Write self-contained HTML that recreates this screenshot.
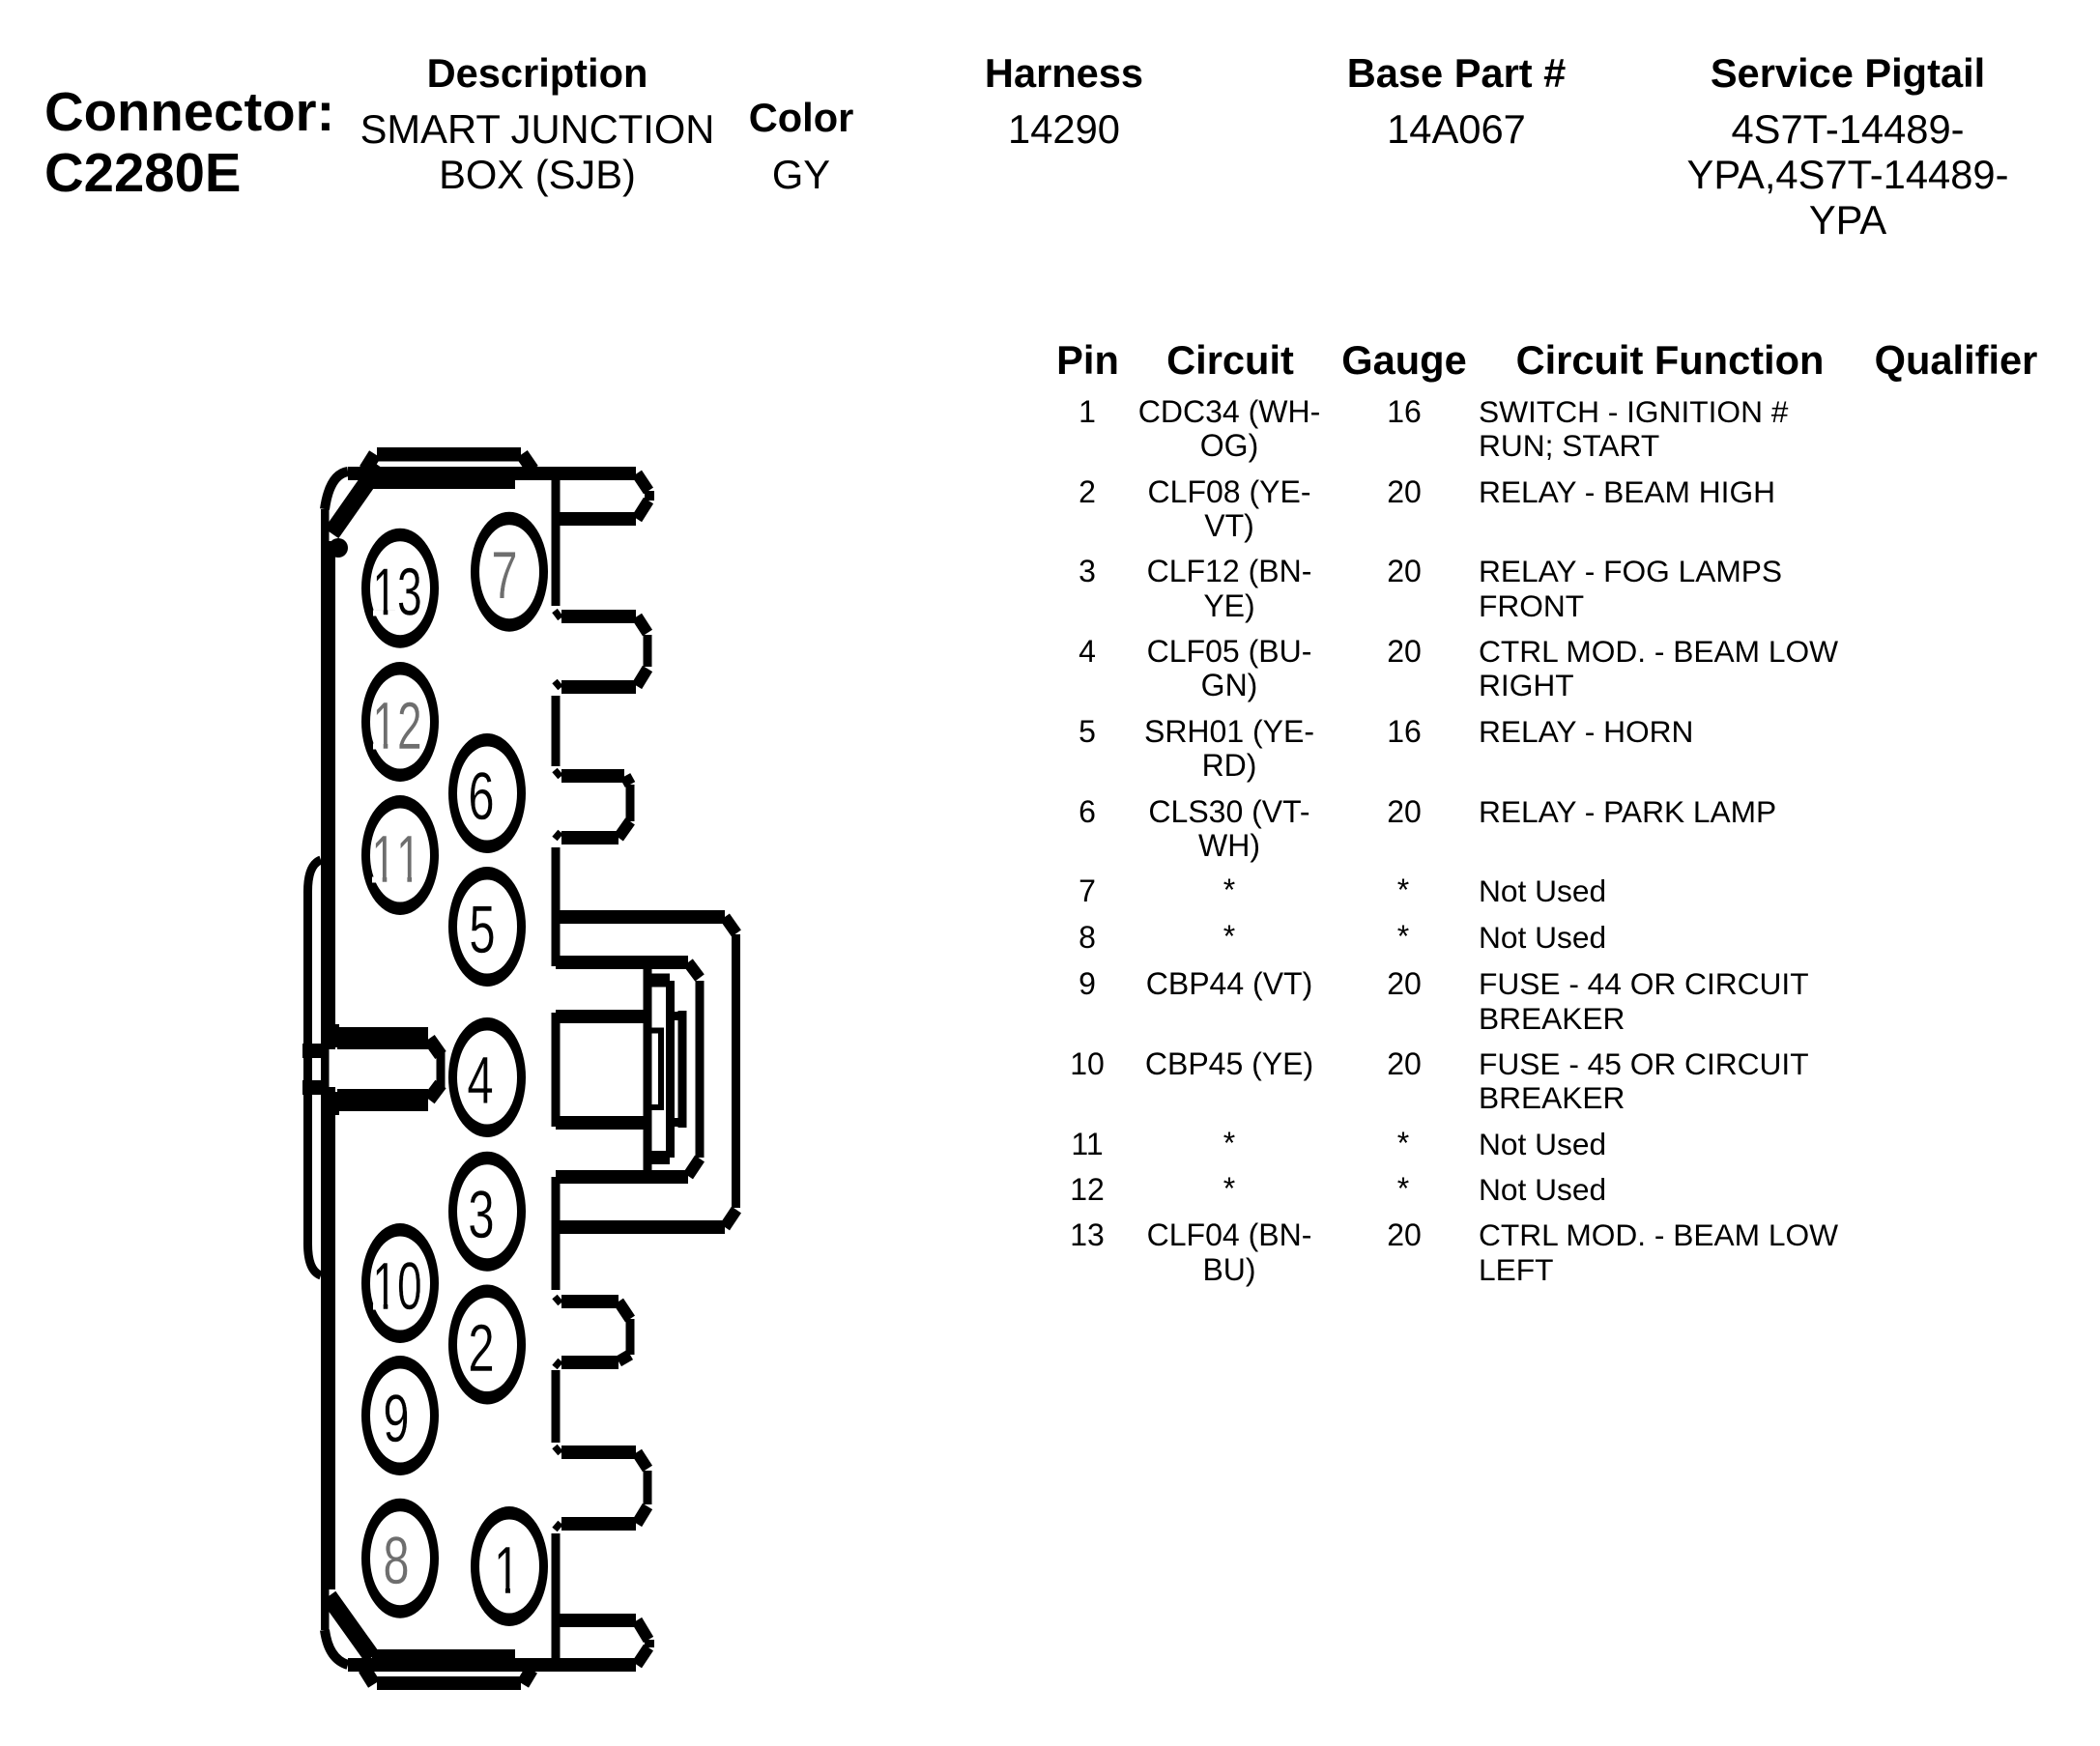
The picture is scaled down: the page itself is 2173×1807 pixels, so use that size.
<!DOCTYPE html>
<html><head><meta charset="utf-8"><style>
html,body{margin:0;padding:0;background:#fff}
svg{display:block}
text{font-family:"Liberation Sans",Arial,sans-serif;fill:#000}
.h{font-weight:bold;font-size:41.6px;text-anchor:middle}
.b{font-weight:bold;font-size:56.3px}
.v{font-size:41.7px;text-anchor:middle}
.t{font-size:32px}
.f{font-size:31.7px}
.m{text-anchor:middle}
.l{fill:none;stroke:#000;stroke-width:14}
.w{fill:none;stroke:#000;stroke-width:9}
.n{font-size:70px;text-anchor:middle;stroke:#fff;stroke-width:.4;font-kerning:none}
</style></head><body>
<svg xmlns="http://www.w3.org/2000/svg" width="2173" height="1807" viewBox="0 0 2173 1807">
<rect width="2173" height="1807" fill="#fff"/>
<text class="b" x="46" y="135">Connector:</text>
<text class="b" x="46" y="198">C2280E</text>
<text class="h" x="556" y="90">Description</text>
<text class="v" x="556" y="148">SMART JUNCTION</text>
<text class="v" x="556" y="195">BOX (SJB)</text>
<text class="h" x="829" y="136">Color</text>
<text class="v" x="829" y="195">GY</text>
<text class="h" x="1101" y="90">Harness</text>
<text class="v" x="1101" y="148">14290</text>
<text class="h" x="1507" y="90">Base Part #</text>
<text class="v" x="1507" y="148">14A067</text>
<text class="h" x="1912" y="90">Service Pigtail</text>
<text class="v" x="1912" y="148">4S7T-14489-</text>
<text class="v" x="1912" y="195">YPA,4S7T-14489-</text>
<text class="v" x="1912" y="242">YPA</text>

<text class="h" x="1125.500" y="387">Pin</text>
<text class="h" x="1273" y="387">Circuit</text>
<text class="h" x="1453" y="387">Gauge</text>
<text class="h" x="1728" y="387">Circuit Function</text>
<text class="h" x="2024" y="387">Qualifier</text>

<text class="t m" x="1125" y="437">1</text><text class="t m" x="1272" y="437">CDC34 (WH-</text><text class="t m" x="1272" y="472">OG)</text><text class="t m" x="1453" y="437">16</text><text class="f" x="1530" y="437">SWITCH - IGNITION #</text><text class="f" x="1530" y="472">RUN; START</text>
<text class="t m" x="1125" y="520">2</text><text class="t m" x="1272" y="520">CLF08 (YE-</text><text class="t m" x="1272" y="555">VT)</text><text class="t m" x="1453" y="520">20</text><text class="f" x="1530" y="520">RELAY - BEAM HIGH</text>
<text class="t m" x="1125" y="602">3</text><text class="t m" x="1272" y="602">CLF12 (BN-</text><text class="t m" x="1272" y="638">YE)</text><text class="t m" x="1453" y="602">20</text><text class="f" x="1530" y="602">RELAY - FOG LAMPS</text><text class="f" x="1530" y="638">FRONT</text>
<text class="t m" x="1125" y="685">4</text><text class="t m" x="1272" y="685">CLF05 (BU-</text><text class="t m" x="1272" y="720">GN)</text><text class="t m" x="1453" y="685">20</text><text class="f" x="1530" y="685">CTRL MOD. - BEAM LOW</text><text class="f" x="1530" y="720">RIGHT</text>
<text class="t m" x="1125" y="768">5</text><text class="t m" x="1272" y="768">SRH01 (YE-</text><text class="t m" x="1272" y="803">RD)</text><text class="t m" x="1453" y="768">16</text><text class="f" x="1530" y="768">RELAY - HORN</text>
<text class="t m" x="1125" y="851">6</text><text class="t m" x="1272" y="851">CLS30 (VT-</text><text class="t m" x="1272" y="886">WH)</text><text class="t m" x="1453" y="851">20</text><text class="f" x="1530" y="851">RELAY - PARK LAMP</text>
<text class="t m" x="1125" y="933">7</text><text class="t m" x="1272" y="932">*</text><text class="t m" x="1452" y="932">*</text><text class="f" x="1530" y="933">Not Used</text>
<text class="t m" x="1125" y="981">8</text><text class="t m" x="1272" y="980">*</text><text class="t m" x="1452" y="980">*</text><text class="f" x="1530" y="981">Not Used</text>
<text class="t m" x="1125" y="1029">9</text><text class="t m" x="1272" y="1029">CBP44 (VT)</text><text class="t m" x="1453" y="1029">20</text><text class="f" x="1530" y="1029">FUSE - 44 OR CIRCUIT</text><text class="f" x="1530" y="1065">BREAKER</text>
<text class="t m" x="1125" y="1112">10</text><text class="t m" x="1272" y="1112">CBP45 (YE)</text><text class="t m" x="1453" y="1112">20</text><text class="f" x="1530" y="1112">FUSE - 45 OR CIRCUIT</text><text class="f" x="1530" y="1147">BREAKER</text>
<text class="t m" x="1125" y="1195">11</text><text class="t m" x="1272" y="1194">*</text><text class="t m" x="1452" y="1194">*</text><text class="f" x="1530" y="1195">Not Used</text>
<text class="t m" x="1125" y="1242">12</text><text class="t m" x="1272" y="1241">*</text><text class="t m" x="1452" y="1241">*</text><text class="f" x="1530" y="1242">Not Used</text>
<text class="t m" x="1125" y="1289">13</text><text class="t m" x="1272" y="1289">CLF04 (BN-</text><text class="t m" x="1272" y="1325">BU)</text><text class="t m" x="1453" y="1289">20</text><text class="f" x="1530" y="1289">CTRL MOD. - BEAM LOW</text><text class="f" x="1530" y="1325">LEFT</text>

<!-- connector body: left wall, top and bottom -->
<g fill="#000">
<rect x="390" y="463" width="149" height="14.500"/>
<rect x="360" y="483" width="298" height="14"/>
<rect x="385" y="497" width="148" height="9"/>
<rect x="332" y="527" width="8.500" height="1160"/>
<rect x="332" y="560" width="15" height="520"/>
<rect x="332" y="1125" width="15" height="520"/>
<rect x="360" y="1716" width="298" height="14"/>
<rect x="385" y="1707" width="148" height="9"/>
<rect x="390" y="1735" width="149" height="14"/>
<circle cx="350" cy="567" r="10"/>
<rect x="313" y="1080" width="27" height="15"/>
<rect x="313" y="1118" width="27" height="15"/>
<rect x="349" y="1063" width="94" height="23"/>
<rect x="349" y="1127" width="94" height="23"/>
<rect x="345" y="1060" width="6" height="24"/>
<rect x="345" y="1130" width="6" height="24"/>
<rect x="340" y="1076" width="7" height="10"/>
<rect x="340" y="1125" width="7" height="10"/>
</g>
<path class="l" d="M388 470L378 486M540 470L551 486"/>
<path class="l" d="M387 1743L377 1727M541 1743L550 1728"/>
<path class="l" style="stroke-width:18" d="M392 482L343 552"/>
<path class="l" style="stroke-width:18" d="M340 1652L385 1715"/>
<path class="l" d="M444 1075L456 1092M444 1138L456 1122"/>
<!-- teeth chevrons -->
<path class="l" style="stroke-width:12" d="M659 490L671 508M671 518L659 537M659 638L670 655M670 692L659 710M647 803L652 812M652 850L640 867M750 949L762 966M762 1252L750 1270M712 996L724 1012M724 1199L712 1217M640 1347L652 1365M652 1402L640 1409M659 1503L670 1520M670 1559L659 1577M659 1677L671 1697M671 1705L659 1723"/>
<!-- tooth lines -->
<path class="l" d="M578 537H658M581 638H658M581 711H658M581 803H646M581 867H640M578 949H750M575 996H712M575 1218H712M578 1270H750M581 1347H640M581 1410H640M581 1503H658M581 1577H658M578 1677H658"/>
<path class="l" d="M575 1052H667M575 1162H667"/>
<path class="l" d="M674 1014.500H693M674 1198H693"/>
<path class="w" style="stroke-width:10" d="M360 488Q341 491 336 527"/>
<path class="w" style="stroke-width:10" d="M336 1687Q340 1717 360 1723"/>
<path class="w" d="M332 890Q318 895 318.500 925V1285Q318 1315 332 1320"/>
<!-- vertical walls -->
<path class="w" d="M575 497V627M575 720V793M575 877V1000M575 1218V1335M575 1418V1493M575 1587V1716"/>
<path class="w" d="M575 1048V1166"/>
<path class="w" d="M670 657V690M670 1522V1557M652 812V850M652 1365V1402M761.500 967V1250M724 1015V1198"/>
<path class="w" d="M670 1002V1211M693.500 1015V1198M706 1046V1167M698 1051.500H706M698 1161.500H706"/>
<path class="w" style="stroke-width:6" d="M674 1066.500H684V1146H674"/>
<path class="w" style="stroke-width:10" d="M672 508V518M672 1697V1705"/>
<path class="w" d="M456 1087V1127"/>
<path class="w" style="stroke-width:7" d="M574 632L580 640M574 705L580 712M574 797L580 804M574 868L580 861M574 1342L580 1349M574 1415L580 1408M574 1497L580 1504M574 1583L580 1576"/>
<!-- pins -->
<g fill="#000"><ellipse cx="414" cy="608.700" rx="40" ry="62"/><ellipse cx="527" cy="591.700" rx="40" ry="62"/><ellipse cx="414" cy="747" rx="40" ry="62"/><ellipse cx="504" cy="821" rx="40" ry="62"/><ellipse cx="414" cy="885" rx="40" ry="62"/><ellipse cx="504" cy="959" rx="40" ry="62"/><ellipse cx="504" cy="1115" rx="40" ry="62"/><ellipse cx="504" cy="1253.700" rx="40" ry="62"/><ellipse cx="414" cy="1328" rx="40" ry="62"/><ellipse cx="504" cy="1391.500" rx="40" ry="62"/><ellipse cx="414" cy="1465" rx="40" ry="62"/><ellipse cx="414" cy="1612.700" rx="40" ry="62"/><ellipse cx="527" cy="1621" rx="40" ry="62"/></g>
<g fill="#fff"><ellipse cx="414" cy="608.700" rx="31" ry="48.500"/><ellipse cx="527" cy="591.700" rx="31" ry="48.500"/><ellipse cx="414" cy="747" rx="31" ry="48.500"/><ellipse cx="504" cy="821" rx="31" ry="48.500"/><ellipse cx="414" cy="885" rx="31" ry="48.500"/><ellipse cx="504" cy="959" rx="31" ry="48.500"/><ellipse cx="504" cy="1115" rx="31" ry="48.500"/><ellipse cx="504" cy="1253.700" rx="31" ry="48.500"/><ellipse cx="414" cy="1328" rx="31" ry="48.500"/><ellipse cx="504" cy="1391.500" rx="31" ry="48.500"/><ellipse cx="414" cy="1465" rx="31" ry="48.500"/><ellipse cx="414" cy="1612.700" rx="31" ry="48.500"/><ellipse cx="527" cy="1621" rx="31" ry="48.500"/></g>
<text class="n" transform="translate(411,636.700) scale(.66,1)">13</text>
<text class="n" style="fill:#6e6e6e" transform="translate(522,619) scale(.7,1)">7</text>
<text class="n" style="fill:#6e6e6e" transform="translate(411,775) scale(.66,1)">12</text>
<text class="n" transform="translate(498,848) scale(.7,1)">6</text>
<text class="n" style="fill:#6e6e6e" transform="translate(410,913) scale(.66,1)">11</text>
<text class="n" transform="translate(499,986) scale(.7,1)">5</text>
<text class="n" transform="translate(497,1142) scale(.7,1)">4</text>
<text class="n" transform="translate(498,1281) scale(.7,1)">3</text>
<text class="n" transform="translate(411,1355) scale(.66,1)">10</text>
<text class="n" transform="translate(498,1419) scale(.7,1)">2</text>
<text class="n" transform="translate(410,1492) scale(.7,1)">9</text>
<text class="n" style="fill:#6e6e6e" transform="translate(410,1639) scale(.7,1)">8</text>
<text class="n" transform="translate(524.500,1649) scale(.7,1)">1</text>
<!-- trim the foot of the numeral one to match the reference typeface -->
<g fill="#fff">
<rect x="386" y="631.500" width="10.700" height="6"/><rect x="401.300" y="631.500" width="9.700" height="6"/>
<rect x="386" y="769.500" width="10.700" height="6"/><rect x="401.300" y="769.500" width="9.700" height="6"/>
<rect x="385" y="907.500" width="10.700" height="6"/><rect x="400.300" y="907.500" width="21.100" height="6"/><rect x="426" y="907.500" width="10" height="6"/>
<rect x="386" y="1349.500" width="10.700" height="6"/><rect x="401.300" y="1349.500" width="9.700" height="6"/>
<rect x="510" y="1643.500" width="13" height="6"/><rect x="528" y="1643.500" width="10" height="6"/>
</g>
</svg>
</body></html>
